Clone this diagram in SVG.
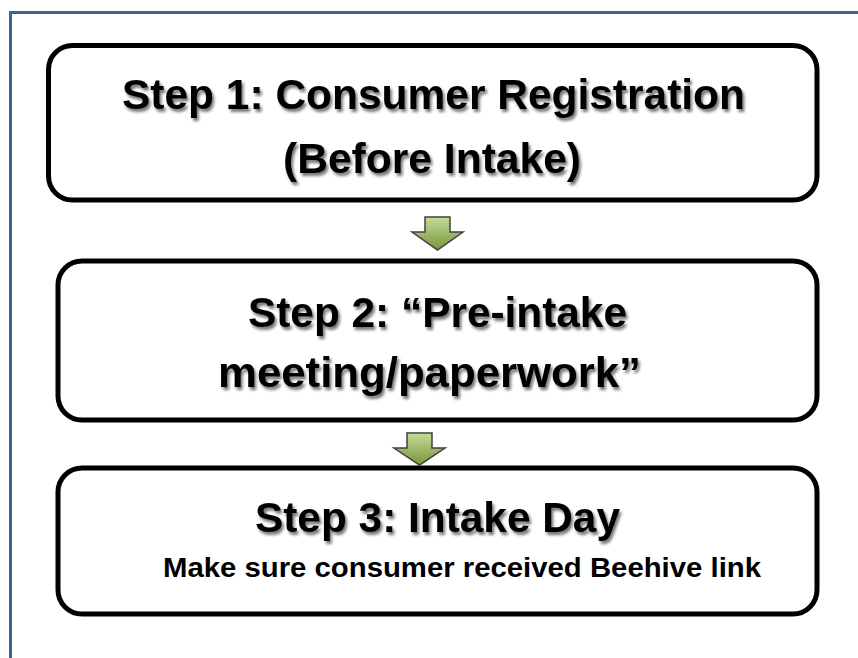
<svg xmlns="http://www.w3.org/2000/svg" width="858" height="658" viewBox="0 0 858 658">
<defs>
<linearGradient id="g" x1="0" y1="0" x2="0" y2="1">
<stop offset="0" stop-color="#c6dc9a"/>
<stop offset="1" stop-color="#76963a"/>
</linearGradient>
<filter id="sh" x="-5%" y="-20%" width="110%" height="150%">
<feGaussianBlur in="SourceAlpha" stdDeviation="1.5"/>
<feOffset dx="2" dy="3" result="b"/>
<feComponentTransfer><feFuncA type="linear" slope="0.55"/></feComponentTransfer>
<feMerge><feMergeNode/><feMergeNode in="SourceGraphic"/></feMerge>
</filter>
</defs>
<style>
.box{fill:#fff;stroke:#000;stroke-width:5}
.t{font-family:"Liberation Sans",Arial,sans-serif;font-weight:bold;font-size:42px;fill:#000;text-anchor:middle}
.s{font-family:"Liberation Sans",Arial,sans-serif;font-weight:bold;font-size:27px;fill:#000;text-anchor:middle}
.arr{fill:url(#g);stroke:#404040;stroke-width:1.5;stroke-linejoin:miter}
</style>
<rect x="0" y="0" width="858" height="658" fill="#fff"/>
<path d="M10.5,658 V12.5 H858" fill="none" stroke="#3e6294" stroke-width="3"/>
<g id="step1">
<rect class="box" x="48.5" y="45.5" width="768.5" height="154.5" rx="24"/>
<text class="t" x="433.5" y="109" textLength="623" lengthAdjust="spacingAndGlyphs" filter="url(#sh)">Step 1: Consumer Registration</text>
<text class="t" x="432" y="173" textLength="298" lengthAdjust="spacingAndGlyphs" filter="url(#sh)">(Before Intake)</text>
</g>
<g id="step2">
<rect class="box" x="58" y="261" width="759" height="159" rx="24"/>
<text class="t" x="437.5" y="327" textLength="379" lengthAdjust="spacingAndGlyphs" filter="url(#sh)">Step 2: “Pre-intake</text>
<text class="t" x="429.5" y="387" textLength="423" lengthAdjust="spacingAndGlyphs" filter="url(#sh)">meeting/paperwork”</text>
</g>
<g id="step3">
<rect class="box" x="58" y="468" width="759" height="146" rx="24"/>
<text class="t" x="437.5" y="532" textLength="365" lengthAdjust="spacingAndGlyphs" filter="url(#sh)">Step 3: Intake Day</text>
<text class="s" x="462" y="577" textLength="598" lengthAdjust="spacingAndGlyphs">Make sure consumer received Beehive link</text>
</g>
<g id="connectors">
<path class="arr" d="M425,217 H450 V232 H463 L437.5,250 L412,232 H425 Z"/>
<path class="arr" d="M407,433 H432 V448 H445 L419.5,465 L394,448 H407 Z"/>
</g>
</svg>
